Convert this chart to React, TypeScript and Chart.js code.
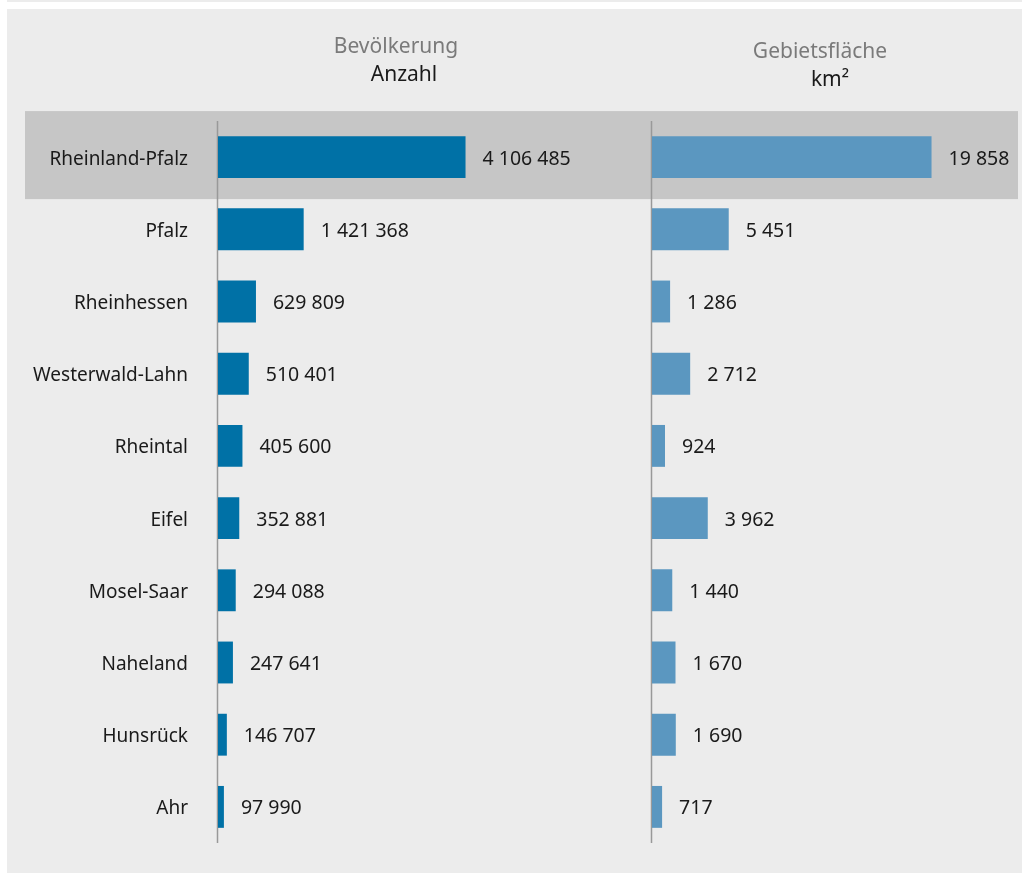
import React, { useEffect, useRef } from "react";
import { Chart, registerables } from "chart.js";

Chart.register(...registerables);

const regions = [
  "Rheinland-Pfalz",
  "Pfalz",
  "Rheinhessen",
  "Westerwald-Lahn",
  "Rheintal",
  "Eifel",
  "Mosel-Saar",
  "Naheland",
  "Hunsrück",
  "Ahr",
];
const population = [4106485, 1421368, 629809, 510401, 405600, 352881, 294088, 247641, 146707, 97990];
const area = [19858, 5451, 1286, 2712, 924, 3962, 1440, 1670, 1690, 717];
const populationTitle = "Bevölkerung";
const populationUnit = "Anzahl";
const areaTitle = "Gebietsfläche";
const areaUnit = "km²";

const FONT = "'Noto Sans', sans-serif";
const TEXT = "#1a1a1a";

const fmt = (v: number) => String(v).replace(/\B(?=(\d{3})+(?!\d))/g, " ");

const decor = {
  id: "decor",
  beforeDraw(chart: any) {
    const { ctx, chartArea, scales } = chart;
    ctx.save();
    ctx.fillStyle = "#ffffff";
    ctx.fillRect(0, 0, chart.width, chart.height);
    ctx.fillStyle = "#ececec";
    ctx.fillRect(7, 0, chart.width - 7, 2);
    ctx.fillRect(7, 9, chart.width - 7, chart.height - 9);
    const c = scales.y.getPixelForValue(0);
    ctx.fillStyle = "#c6c6c6";
    ctx.fillRect(25, c - 46, chartArea.right - 25, 88);
    ctx.restore();
  },
  beforeDatasetsDraw(chart: any) {
    const { ctx, chartArea, scales } = chart;
    ctx.save();
    ctx.strokeStyle = "#999999";
    ctx.lineWidth = 1.5;
    for (const id of ["x", "x2"]) {
      const px = scales[id].getPixelForValue(0) - 0.5;
      ctx.beginPath();
      ctx.moveTo(px, chartArea.top);
      ctx.lineTo(px, chartArea.bottom);
      ctx.stroke();
    }
    ctx.restore();
  },
  afterDatasetsDraw(chart: any) {
    const { ctx } = chart;
    ctx.save();
    ctx.font = `19.5px ${FONT}`;
    ctx.fillStyle = TEXT;
    ctx.textAlign = "left";
    ctx.textBaseline = "middle";
    chart.data.datasets.forEach((ds: any, di: number) => {
      const meta = chart.getDatasetMeta(di);
      meta.data.forEach((bar: any, i: number) => {
        ctx.fillText(fmt(ds.data[i]), bar.x + 17, bar.y + 2);
      });
    });
    ctx.restore();
  },
  afterDraw(chart: any) {
    const { ctx } = chart;
    ctx.save();
    ctx.textAlign = "center";
    ctx.textBaseline = "middle";
    ctx.font = `21px ${FONT}`;
    ctx.fillStyle = "#7a7a7a";
    ctx.fillText(populationTitle, 396, 47);
    ctx.fillText(areaTitle, 820, 52);
    ctx.fillStyle = TEXT;
    ctx.fillText(populationUnit, 404, 75);
    ctx.fillText(areaUnit, 830, 80);
    ctx.restore();
  },
};

export default function App() {
  const ref = useRef<HTMLCanvasElement>(null);
  useEffect(() => {
    if (!ref.current) return;
    const chart = new Chart(ref.current, {
      type: "bar",
      data: {
        labels: regions,
        datasets: [
          {
            label: populationTitle,
            data: population,
            xAxisID: "x",
            backgroundColor: "#0071a6",
            grouped: false,
            barPercentage: 0.58,
            categoryPercentage: 1,
          } as any,
          {
            label: areaTitle,
            data: area,
            xAxisID: "x2",
            backgroundColor: "#5b97c0",
            grouped: false,
            barPercentage: 0.58,
            categoryPercentage: 1,
          } as any,
        ],
      },
      options: {
        indexAxis: "y",
        responsive: false,
        animation: false,
        layout: { padding: { top: 121, bottom: 30, left: 0, right: 4 } },
        plugins: { legend: { display: false }, tooltip: { enabled: false } },
        scales: {
          y: {
            position: "left",
            grid: { display: false, drawTicks: false },
            border: { display: false },
            ticks: { padding: 30, labelOffset: 2, color: TEXT, font: { family: FONT, size: 19 } },
            afterFit: (s: any) => {
              s.width = 218;
              s.paddingTop = 0;
              s.paddingBottom = 0;
            },
          },
          x: {
            display: false,
            position: "bottom",
            stack: "v",
            stackWeight: 434,
            min: 0,
            max: 7200000,
          },
          x2: {
            display: false,
            position: "bottom",
            stack: "v",
            stackWeight: 366,
            min: 0,
            max: 26000,
          },
        } as any,
      },
      plugins: [decor],
    });
    return () => chart.destroy();
  }, []);
  return (
    <div style={{ position: "absolute", left: 0, top: 0, width: 1022, height: 873 }}>
      <canvas ref={ref} width={1022} height={873} style={{ display: "block" }} />
    </div>
  );
}
